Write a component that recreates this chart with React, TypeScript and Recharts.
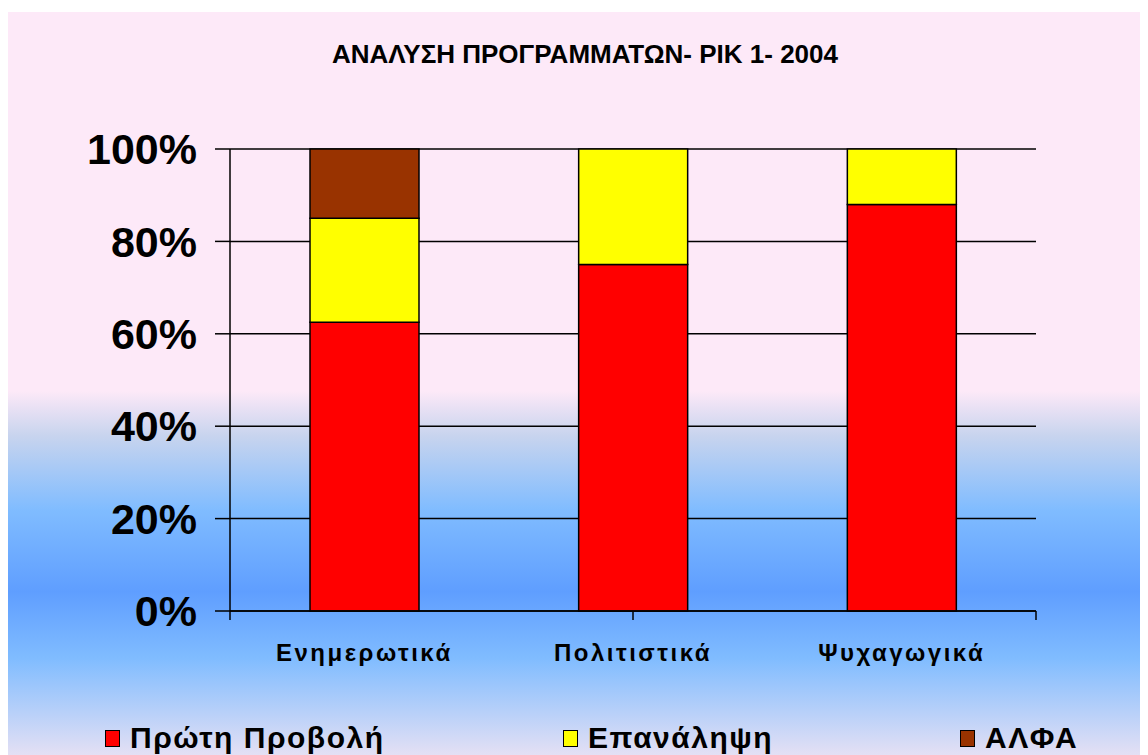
import { Bar, BarChart, CartesianGrid, Legend, XAxis, YAxis } from "recharts";

const categories = ["Ενημερωτικά", "Πολιτιστικά", "Ψυχαγωγικά"];
const firstRun = [62.5, 75, 88];
const repeat = [22.5, 25, 12];
const alfa = [15, 0, 0];
const yTicks = [0, 20, 40, 60, 80, 100];
const edgeTicks = [0, 1, 2, 3];

const seriesNames = ["Πρώτη Προβολή", "Επανάληψη", "ΑΛΦΑ"];
const seriesColors = ["#FF0000", "#FFFF00", "#993300"];

const data = categories.map((name, i) => ({
  name,
  first: firstRun[i],
  repeat: repeat[i],
  alfa: alfa[i],
}));

const FONT = '"Liberation Sans", Arial, sans-serif';

function LegendBox() {
  const lefts = [101, 559, 956];
  return (
    <div style={{ position: "relative", width: 1144, height: 34, fontFamily: FONT }}>
      {seriesNames.map((n, i) => (
        <div
          key={n}
          style={{
            position: "absolute",
            left: lefts[i],
            top: 0,
            height: 34,
            display: "flex",
            alignItems: "center",
            whiteSpace: "nowrap",
          }}
        >
          <span
            style={{
              display: "inline-block",
              width: 13,
              height: 15,
              background: seriesColors[i],
              border: "1.5px solid #000",
              marginRight: 10,
            }}
          />
          <span style={{ fontSize: 30, fontWeight: "bold", color: "#000", letterSpacing: 1.5 }}>{n}</span>
        </div>
      ))}
    </div>
  );
}

export default function App() {
  return (
    <div
      style={{
        position: "relative",
        width: 1144,
        height: 743,
        marginLeft: -4,
        marginTop: 4,
        background:
          "linear-gradient(to bottom, #FDE9F8 0%, #FDE9F8 51%, #C8D4EE 57%, #80BCFF 67%, #5F9EFF 78%, #80BCFF 87%, #E4E0F4 100%)",
      }}
    >
      <div
        style={{
          position: "absolute",
          left: 0,
          width: 1162,
          top: 29,
          textAlign: "center",
          fontFamily: FONT,
          fontWeight: "bold",
          fontSize: 26,
          lineHeight: "26px",
          color: "#000",
        }}
      >
        ΑΝΑΛΥΣΗ ΠΡΟΓΡΑΜΜΑΤΩΝ- ΡΙΚ 1- 2004
      </div>
      <BarChart
        width={1144}
        height={743}
        data={data}
        margin={{ top: 137, right: 112, left: 0, bottom: 0 }}
        barSize={109}
        style={{ position: "absolute", left: 0, top: 0 }}
      >
        <CartesianGrid vertical={false} stroke="#000" strokeWidth={1.5} xAxisId={1} />
        <XAxis
          xAxisId={0}
          type="number"
          domain={[0, 3]}
          ticks={edgeTicks}
          height={1}
          axisLine={{ stroke: "#000", strokeWidth: 1.5 }}
          tickLine={{ stroke: "#000", strokeWidth: 1.5 }}
          tickSize={9}
          tickFormatter={() => ""}
        />
        <XAxis
          xAxisId={1}
          dataKey="name"
          height={109}
          axisLine={false}
          tickLine={false}
          tickSize={0}
          tickMargin={32}
          interval={0}
          tick={{ fill: "#000", fontSize: 24, fontWeight: "bold", fontFamily: FONT, letterSpacing: 2.5 }}
        />
        <YAxis
          width={226}
          domain={[0, 100]}
          ticks={yTicks}
          tickFormatter={(v) => `${v}%`}
          axisLine={{ stroke: "#000", strokeWidth: 1.5 }}
          tickLine={{ stroke: "#000", strokeWidth: 1.5 }}
          tickSize={15}
          tickMargin={18}
          tick={{ fill: "#000", fontSize: 43, fontWeight: "bold", fontFamily: FONT }}
        />
        <Legend verticalAlign="bottom" content={() => <LegendBox />} />
        <Bar xAxisId={1} dataKey="first" stackId="a" fill={seriesColors[0]} stroke="#000" strokeWidth={1.5} isAnimationActive={false} />
        <Bar xAxisId={1} dataKey="repeat" stackId="a" fill={seriesColors[1]} stroke="#000" strokeWidth={1.5} isAnimationActive={false} />
        <Bar xAxisId={1} dataKey="alfa" stackId="a" fill={seriesColors[2]} stroke="#000" strokeWidth={1.5} isAnimationActive={false} />
      </BarChart>
    </div>
  );
}
